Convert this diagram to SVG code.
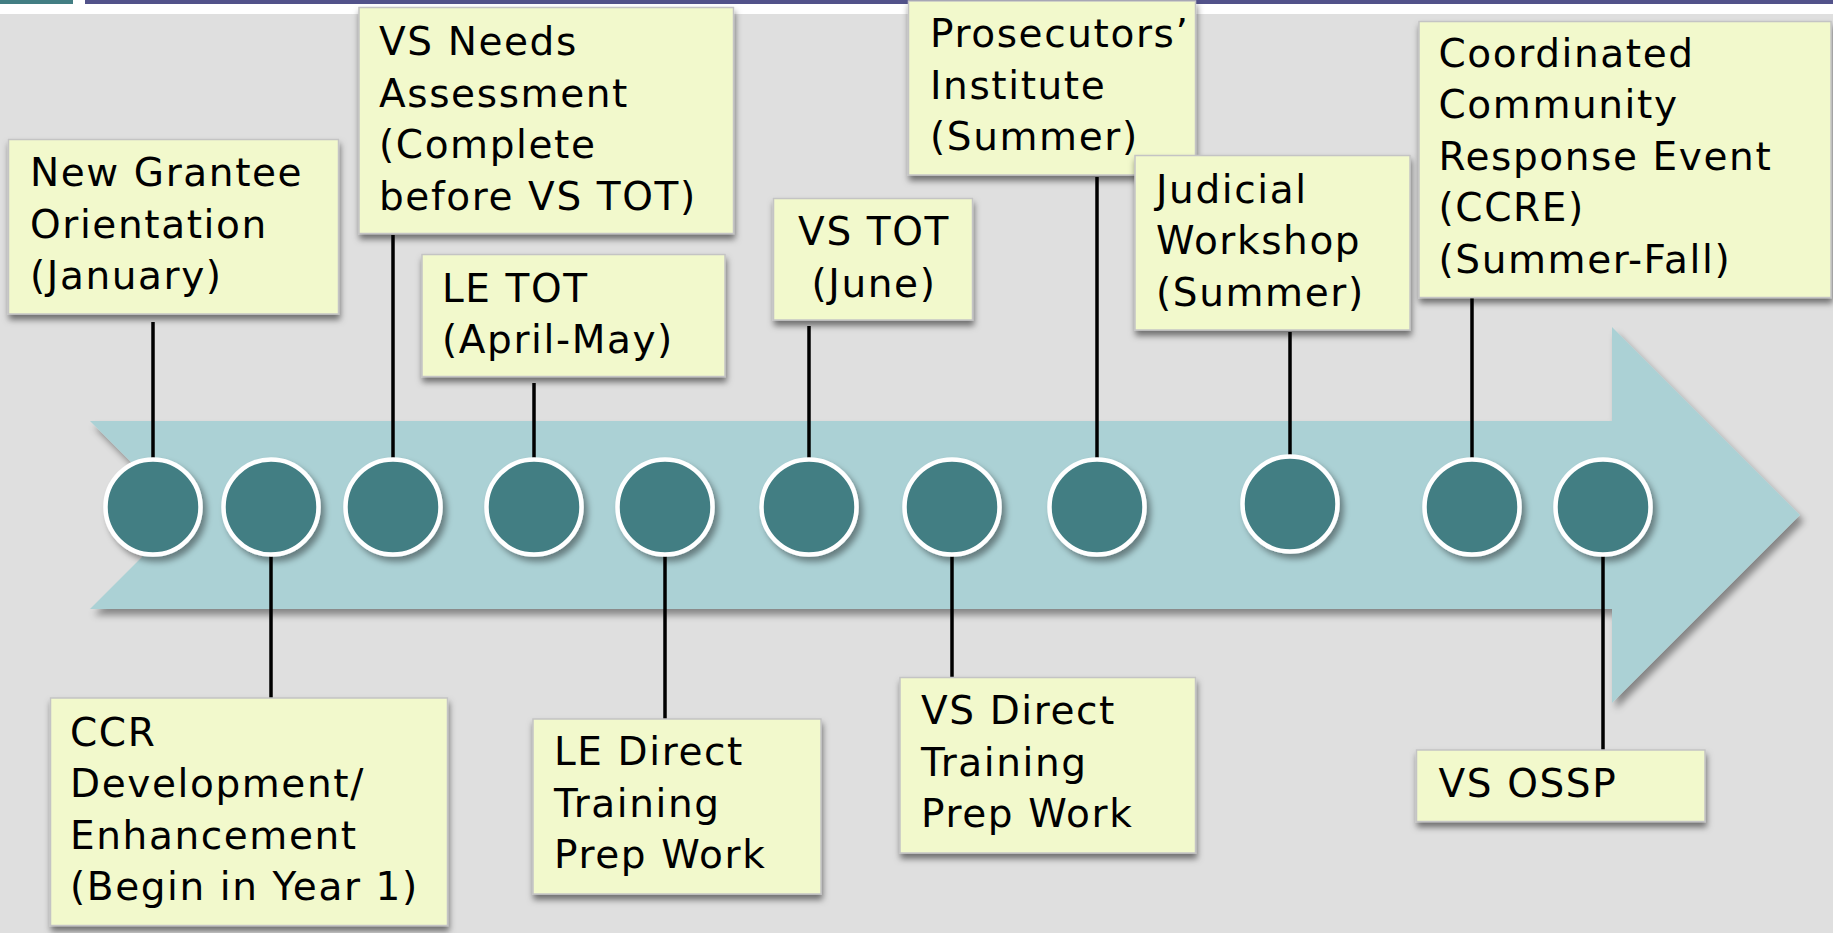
<svg xmlns="http://www.w3.org/2000/svg" width="1833" height="933" viewBox="0 0 1833 933">
<defs>
<filter id="shBox" x="-10%" y="-10%" width="130%" height="140%"><feDropShadow dx="1" dy="5" stdDeviation="3" flood-color="#000" flood-opacity="0.5"/></filter>
<filter id="shArrow" x="-5%" y="-10%" width="115%" height="130%"><feDropShadow dx="4" dy="6" stdDeviation="3.5" flood-color="#000" flood-opacity="0.4"/></filter>
<filter id="shDot" x="-30%" y="-30%" width="170%" height="170%"><feDropShadow dx="4" dy="5" stdDeviation="3" flood-color="#000" flood-opacity="0.4"/></filter>
<style>
.box{fill:#F2F9CC;stroke:#C4C4C4;stroke-width:1.5;filter:url(#shBox)}
.t{font-family:"DejaVu Sans","Liberation Sans",sans-serif;font-size:39px;letter-spacing:1.6px;fill:#000}
.dot{fill:#427E83;stroke:#FFFFFF;stroke-width:4.5;filter:url(#shDot)}
.ln{stroke:#000;stroke-width:3.5;fill:none}
</style>
</defs>
<rect x="0" y="0" width="1833" height="933" fill="#DFDFDF"/>
<rect x="0" y="0" width="1833" height="14" fill="#FFFFFF"/>
<rect x="0" y="0" width="73" height="4" fill="#427E83"/>
<rect x="85" y="0" width="1748" height="4" fill="#52528A"/>
<polygon id="arrow" points="90,421 1612,421 1612,327 1800,515 1612,703 1612,609 90,609 184,515" fill="#ABD1D5" filter="url(#shArrow)"/>
<g id="connectors">
<line class="ln" x1="153" y1="322" x2="153" y2="507"/>
<line class="ln" x1="393" y1="235" x2="393" y2="507"/>
<line class="ln" x1="534" y1="383" x2="534" y2="507"/>
<line class="ln" x1="809" y1="326" x2="809" y2="507"/>
<line class="ln" x1="1097" y1="177" x2="1097" y2="507"/>
<line class="ln" x1="1290" y1="332" x2="1290" y2="504"/>
<line class="ln" x1="1472" y1="298" x2="1472" y2="507"/>
<line class="ln" x1="271" y1="507" x2="271" y2="698"/>
<line class="ln" x1="665" y1="507" x2="665" y2="719"/>
<line class="ln" x1="952" y1="507" x2="952" y2="677"/>
<line class="ln" x1="1603" y1="507" x2="1603" y2="750"/>
</g>
<g id="dots">
<circle class="dot" cx="153" cy="507" r="47.5"/>
<circle class="dot" cx="271" cy="507" r="47.5"/>
<circle class="dot" cx="393" cy="507" r="47.5"/>
<circle class="dot" cx="534" cy="507" r="47.5"/>
<circle class="dot" cx="665" cy="507" r="47.5"/>
<circle class="dot" cx="809" cy="507" r="47.5"/>
<circle class="dot" cx="952" cy="507" r="47.5"/>
<circle class="dot" cx="1097" cy="507" r="47.5"/>
<circle class="dot" cx="1290" cy="504" r="47.5"/>
<circle class="dot" cx="1472" cy="507" r="47.5"/>
<circle class="dot" cx="1603" cy="507" r="47.5"/>
</g>
<g id="new-grantee">
<rect class="box" x="8.5" y="139.5" width="330" height="174.5"/>
<text class="t" x="30" y="186">New Grantee</text>
<text class="t" x="30" y="237.5">Orientation</text>
<text class="t" x="30" y="289">(January)</text>
</g>
<g id="vs-needs">
<rect class="box" x="359" y="7.5" width="374.5" height="226"/>
<text class="t" x="379" y="55">VS Needs</text>
<text class="t" x="379" y="106.5">Assessment</text>
<text class="t" x="379" y="158">(Complete</text>
<text class="t" x="379" y="209.5">before VS TOT)</text>
</g>
<g id="le-tot">
<rect class="box" x="422" y="254.5" width="303" height="122"/>
<text class="t" x="442" y="301.5">LE TOT</text>
<text class="t" x="442" y="353">(April-May)</text>
</g>
<g id="vs-tot">
<rect class="box" x="773.5" y="198.5" width="199" height="121.5"/>
<text class="t" x="874" y="245" text-anchor="middle">VS TOT</text>
<text class="t" x="874" y="296.5" text-anchor="middle">(June)</text>
</g>
<g id="prosecutors">
<rect class="box" x="908.5" y="1" width="287" height="174"/>
<text class="t" x="930" y="47">Prosecutors’</text>
<text class="t" x="930" y="98.5">Institute</text>
<text class="t" x="930" y="150">(Summer)</text>
</g>
<g id="judicial">
<rect class="box" x="1135" y="155.5" width="275" height="174.5"/>
<text class="t" x="1156" y="202.5">Judicial</text>
<text class="t" x="1156" y="254">Workshop</text>
<text class="t" x="1156" y="305.5">(Summer)</text>
</g>
<g id="ccre">
<rect class="box" x="1419" y="21.5" width="412" height="276"/>
<text class="t" x="1438.5" y="66.5">Coordinated</text>
<text class="t" x="1438.5" y="118">Community</text>
<text class="t" x="1438.5" y="169.5">Response Event</text>
<text class="t" x="1438.5" y="221">(CCRE)</text>
<text class="t" x="1438.5" y="272.5">(Summer-Fall)</text>
</g>
<g id="ccr">
<rect class="box" x="50.5" y="698" width="397" height="227.5"/>
<text class="t" x="70" y="745.5">CCR</text>
<text class="t" x="70" y="797">Development/</text>
<text class="t" x="70" y="848.5">Enhancement</text>
<text class="t" x="70" y="900">(Begin in Year 1)</text>
</g>
<g id="le-direct">
<rect class="box" x="533" y="719" width="288" height="175"/>
<text class="t" x="554" y="765">LE Direct</text>
<text class="t" x="554" y="816.5">Training</text>
<text class="t" x="554" y="868">Prep Work</text>
</g>
<g id="vs-direct">
<rect class="box" x="900" y="677.5" width="295.5" height="175.5"/>
<text class="t" x="921" y="724">VS Direct</text>
<text class="t" x="921" y="775.5">Training</text>
<text class="t" x="921" y="827">Prep Work</text>
</g>
<g id="vs-ossp">
<rect class="box" x="1416.5" y="750" width="288.5" height="71.5"/>
<text class="t" x="1438.5" y="797">VS OSSP</text>
</g>
</svg>
